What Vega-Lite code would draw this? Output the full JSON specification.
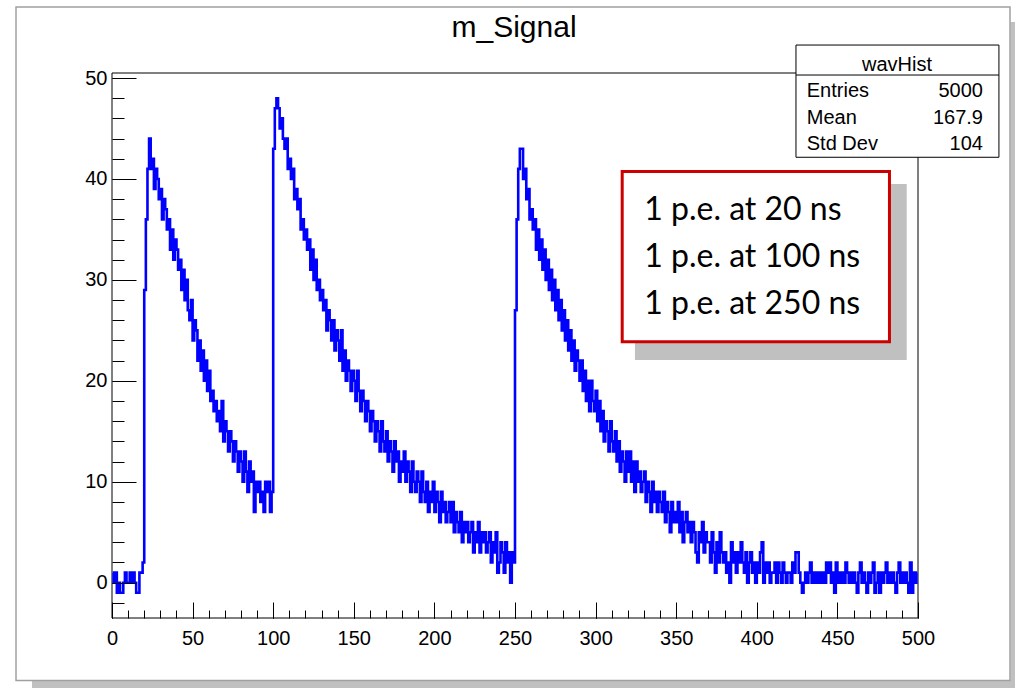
{
  "$schema": "https://vega.github.io/schema/vega-lite/v6.json",
  "width": 806,
  "height": 545,
  "autosize": {"type": "none"},
  "padding": {"left": 112, "top": 73, "right": 97, "bottom": 70},
  "background": "white",
  "config": {"view": {"stroke": null}},
  "datasets": {
    "wav": [
      {"ns":0.5,"counts":1},{"ns":1.5,"counts":0},{"ns":2.5,"counts":1},{"ns":3.5,"counts":-1},{"ns":4.5,"counts":0},{"ns":5.5,"counts":-1},{"ns":6.5,"counts":-1},{"ns":7.5,"counts":0},{"ns":8.5,"counts":1},{"ns":9.5,"counts":0},
      {"ns":10.5,"counts":0},{"ns":11.5,"counts":1},{"ns":12.5,"counts":0},{"ns":13.5,"counts":1},{"ns":14.5,"counts":0},{"ns":15.5,"counts":-1},{"ns":16.5,"counts":-1},{"ns":17.5,"counts":1},{"ns":18.5,"counts":1},{"ns":19.5,"counts":2},
      {"ns":20.5,"counts":29},{"ns":21.5,"counts":36},{"ns":22.5,"counts":41},{"ns":23.5,"counts":44},{"ns":24.5,"counts":41},{"ns":25.5,"counts":42},{"ns":26.5,"counts":39},{"ns":27.5,"counts":41},{"ns":28.5,"counts":40},{"ns":29.5,"counts":38},
      {"ns":30.5,"counts":39},{"ns":31.5,"counts":36},{"ns":32.5,"counts":38},{"ns":33.5,"counts":37},{"ns":34.5,"counts":35},{"ns":35.5,"counts":36},{"ns":36.5,"counts":33},{"ns":37.5,"counts":35},{"ns":38.5,"counts":32},{"ns":39.5,"counts":34},
      {"ns":40.5,"counts":33},{"ns":41.5,"counts":31},{"ns":42.5,"counts":32},{"ns":43.5,"counts":29},{"ns":44.5,"counts":31},{"ns":45.5,"counts":28},{"ns":46.5,"counts":30},{"ns":47.5,"counts":27},{"ns":48.5,"counts":26},{"ns":49.5,"counts":28},
      {"ns":50.5,"counts":24},{"ns":51.5,"counts":26},{"ns":52.5,"counts":25},{"ns":53.5,"counts":22},{"ns":54.5,"counts":24},{"ns":55.5,"counts":21},{"ns":56.5,"counts":23},{"ns":57.5,"counts":20},{"ns":58.5,"counts":22},{"ns":59.5,"counts":19},
      {"ns":60.5,"counts":21},{"ns":61.5,"counts":18},{"ns":62.5,"counts":19},{"ns":63.5,"counts":17},{"ns":64.5,"counts":18},{"ns":65.5,"counts":16},{"ns":66.5,"counts":17},{"ns":67.5,"counts":15},{"ns":68.5,"counts":18},{"ns":69.5,"counts":14},
      {"ns":70.5,"counts":16},{"ns":71.5,"counts":15},{"ns":72.5,"counts":13},{"ns":73.5,"counts":15},{"ns":74.5,"counts":14},{"ns":75.5,"counts":12},{"ns":76.5,"counts":14},{"ns":77.5,"counts":13},{"ns":78.5,"counts":11},{"ns":79.5,"counts":13},
      {"ns":80.5,"counts":12},{"ns":81.5,"counts":10},{"ns":82.5,"counts":13},{"ns":83.5,"counts":11},{"ns":84.5,"counts":9},{"ns":85.5,"counts":12},{"ns":86.5,"counts":10},{"ns":87.5,"counts":11},{"ns":88.5,"counts":7},{"ns":89.5,"counts":10},
      {"ns":90.5,"counts":9},{"ns":91.5,"counts":10},{"ns":92.5,"counts":8},{"ns":93.5,"counts":9},{"ns":94.5,"counts":7},{"ns":95.5,"counts":10},{"ns":96.5,"counts":9},{"ns":97.5,"counts":10},{"ns":98.5,"counts":7},{"ns":99.5,"counts":9},
      {"ns":100.5,"counts":43},{"ns":101.5,"counts":47},{"ns":102.5,"counts":48},{"ns":103.5,"counts":47},{"ns":104.5,"counts":45},{"ns":105.5,"counts":46},{"ns":106.5,"counts":44},{"ns":107.5,"counts":43},{"ns":108.5,"counts":44},{"ns":109.5,"counts":41},
      {"ns":110.5,"counts":42},{"ns":111.5,"counts":40},{"ns":112.5,"counts":41},{"ns":113.5,"counts":38},{"ns":114.5,"counts":39},{"ns":115.5,"counts":37},{"ns":116.5,"counts":38},{"ns":117.5,"counts":35},{"ns":118.5,"counts":36},{"ns":119.5,"counts":34},
      {"ns":120.5,"counts":35},{"ns":121.5,"counts":33},{"ns":122.5,"counts":34},{"ns":123.5,"counts":31},{"ns":124.5,"counts":33},{"ns":125.5,"counts":30},{"ns":126.5,"counts":32},{"ns":127.5,"counts":29},{"ns":128.5,"counts":30},{"ns":129.5,"counts":28},
      {"ns":130.5,"counts":29},{"ns":131.5,"counts":27},{"ns":132.5,"counts":28},{"ns":133.5,"counts":25},{"ns":134.5,"counts":27},{"ns":135.5,"counts":26},{"ns":136.5,"counts":24},{"ns":137.5,"counts":26},{"ns":138.5,"counts":23},{"ns":139.5,"counts":25},
      {"ns":140.5,"counts":24},{"ns":141.5,"counts":22},{"ns":142.5,"counts":25},{"ns":143.5,"counts":21},{"ns":144.5,"counts":23},{"ns":145.5,"counts":20},{"ns":146.5,"counts":22},{"ns":147.5,"counts":21},{"ns":148.5,"counts":19},{"ns":149.5,"counts":21},
      {"ns":150.5,"counts":20},{"ns":151.5,"counts":18},{"ns":152.5,"counts":21},{"ns":153.5,"counts":19},{"ns":154.5,"counts":17},{"ns":155.5,"counts":19},{"ns":156.5,"counts":18},{"ns":157.5,"counts":16},{"ns":158.5,"counts":18},{"ns":159.5,"counts":17},
      {"ns":160.5,"counts":15},{"ns":161.5,"counts":17},{"ns":162.5,"counts":16},{"ns":163.5,"counts":14},{"ns":164.5,"counts":16},{"ns":165.5,"counts":15},{"ns":166.5,"counts":13},{"ns":167.5,"counts":16},{"ns":168.5,"counts":14},{"ns":169.5,"counts":13},
      {"ns":170.5,"counts":15},{"ns":171.5,"counts":12},{"ns":172.5,"counts":14},{"ns":173.5,"counts":13},{"ns":174.5,"counts":11},{"ns":175.5,"counts":14},{"ns":176.5,"counts":12},{"ns":177.5,"counts":13},{"ns":178.5,"counts":10},{"ns":179.5,"counts":12},
      {"ns":180.5,"counts":11},{"ns":181.5,"counts":13},{"ns":182.5,"counts":10},{"ns":183.5,"counts":12},{"ns":184.5,"counts":11},{"ns":185.5,"counts":9},{"ns":186.5,"counts":12},{"ns":187.5,"counts":10},{"ns":188.5,"counts":9},{"ns":189.5,"counts":11},
      {"ns":190.5,"counts":10},{"ns":191.5,"counts":8},{"ns":192.5,"counts":11},{"ns":193.5,"counts":9},{"ns":194.5,"counts":8},{"ns":195.5,"counts":10},{"ns":196.5,"counts":7},{"ns":197.5,"counts":9},{"ns":198.5,"counts":8},{"ns":199.5,"counts":10},
      {"ns":200.5,"counts":7},{"ns":201.5,"counts":9},{"ns":202.5,"counts":8},{"ns":203.5,"counts":6},{"ns":204.5,"counts":9},{"ns":205.5,"counts":7},{"ns":206.5,"counts":8},{"ns":207.5,"counts":6},{"ns":208.5,"counts":7},{"ns":209.5,"counts":8},
      {"ns":210.5,"counts":6},{"ns":211.5,"counts":8},{"ns":212.5,"counts":5},{"ns":213.5,"counts":7},{"ns":214.5,"counts":6},{"ns":215.5,"counts":5},{"ns":216.5,"counts":7},{"ns":217.5,"counts":4},{"ns":218.5,"counts":6},{"ns":219.5,"counts":5},
      {"ns":220.5,"counts":6},{"ns":221.5,"counts":4},{"ns":222.5,"counts":5},{"ns":223.5,"counts":6},{"ns":224.5,"counts":3},{"ns":225.5,"counts":5},{"ns":226.5,"counts":4},{"ns":227.5,"counts":6},{"ns":228.5,"counts":3},{"ns":229.5,"counts":5},
      {"ns":230.5,"counts":4},{"ns":231.5,"counts":5},{"ns":232.5,"counts":3},{"ns":233.5,"counts":4},{"ns":234.5,"counts":5},{"ns":235.5,"counts":2},{"ns":236.5,"counts":4},{"ns":237.5,"counts":3},{"ns":238.5,"counts":5},{"ns":239.5,"counts":1},
      {"ns":240.5,"counts":2},{"ns":241.5,"counts":4},{"ns":242.5,"counts":3},{"ns":243.5,"counts":1},{"ns":244.5,"counts":4},{"ns":245.5,"counts":2},{"ns":246.5,"counts":3},{"ns":247.5,"counts":0},{"ns":248.5,"counts":3},{"ns":249.5,"counts":2},
      {"ns":250.5,"counts":27},{"ns":251.5,"counts":36},{"ns":252.5,"counts":41},{"ns":253.5,"counts":43},{"ns":254.5,"counts":43},{"ns":255.5,"counts":40},{"ns":256.5,"counts":41},{"ns":257.5,"counts":38},{"ns":258.5,"counts":39},{"ns":259.5,"counts":36},
      {"ns":260.5,"counts":37},{"ns":261.5,"counts":35},{"ns":262.5,"counts":36},{"ns":263.5,"counts":33},{"ns":264.5,"counts":35},{"ns":265.5,"counts":32},{"ns":266.5,"counts":34},{"ns":267.5,"counts":31},{"ns":268.5,"counts":33},{"ns":269.5,"counts":30},
      {"ns":270.5,"counts":32},{"ns":271.5,"counts":29},{"ns":272.5,"counts":31},{"ns":273.5,"counts":28},{"ns":274.5,"counts":30},{"ns":275.5,"counts":27},{"ns":276.5,"counts":29},{"ns":277.5,"counts":26},{"ns":278.5,"counts":28},{"ns":279.5,"counts":25},
      {"ns":280.5,"counts":27},{"ns":281.5,"counts":24},{"ns":282.5,"counts":26},{"ns":283.5,"counts":23},{"ns":284.5,"counts":25},{"ns":285.5,"counts":22},{"ns":286.5,"counts":24},{"ns":287.5,"counts":21},{"ns":288.5,"counts":23},{"ns":289.5,"counts":22},
      {"ns":290.5,"counts":20},{"ns":291.5,"counts":22},{"ns":292.5,"counts":19},{"ns":293.5,"counts":21},{"ns":294.5,"counts":18},{"ns":295.5,"counts":20},{"ns":296.5,"counts":17},{"ns":297.5,"counts":20},{"ns":298.5,"counts":18},{"ns":299.5,"counts":17},
      {"ns":300.5,"counts":19},{"ns":301.5,"counts":16},{"ns":302.5,"counts":18},{"ns":303.5,"counts":15},{"ns":304.5,"counts":17},{"ns":305.5,"counts":14},{"ns":306.5,"counts":16},{"ns":307.5,"counts":15},{"ns":308.5,"counts":13},{"ns":309.5,"counts":16},
      {"ns":310.5,"counts":14},{"ns":311.5,"counts":13},{"ns":312.5,"counts":15},{"ns":313.5,"counts":12},{"ns":314.5,"counts":14},{"ns":315.5,"counts":11},{"ns":316.5,"counts":13},{"ns":317.5,"counts":12},{"ns":318.5,"counts":10},{"ns":319.5,"counts":13},
      {"ns":320.5,"counts":11},{"ns":321.5,"counts":13},{"ns":322.5,"counts":10},{"ns":323.5,"counts":12},{"ns":324.5,"counts":9},{"ns":325.5,"counts":12},{"ns":326.5,"counts":10},{"ns":327.5,"counts":11},{"ns":328.5,"counts":9},{"ns":329.5,"counts":10},
      {"ns":330.5,"counts":11},{"ns":331.5,"counts":8},{"ns":332.5,"counts":10},{"ns":333.5,"counts":9},{"ns":334.5,"counts":7},{"ns":335.5,"counts":10},{"ns":336.5,"counts":8},{"ns":337.5,"counts":9},{"ns":338.5,"counts":7},{"ns":339.5,"counts":9},
      {"ns":340.5,"counts":8},{"ns":341.5,"counts":7},{"ns":342.5,"counts":9},{"ns":343.5,"counts":6},{"ns":344.5,"counts":8},{"ns":345.5,"counts":7},{"ns":346.5,"counts":5},{"ns":347.5,"counts":8},{"ns":348.5,"counts":6},{"ns":349.5,"counts":7},
      {"ns":350.5,"counts":6},{"ns":351.5,"counts":8},{"ns":352.5,"counts":5},{"ns":353.5,"counts":7},{"ns":354.5,"counts":4},{"ns":355.5,"counts":6},{"ns":356.5,"counts":7},{"ns":357.5,"counts":5},{"ns":358.5,"counts":6},{"ns":359.5,"counts":4},
      {"ns":360.5,"counts":6},{"ns":361.5,"counts":5},{"ns":362.5,"counts":3},{"ns":363.5,"counts":2},{"ns":364.5,"counts":5},{"ns":365.5,"counts":4},{"ns":366.5,"counts":6},{"ns":367.5,"counts":3},{"ns":368.5,"counts":5},{"ns":369.5,"counts":4},
      {"ns":370.5,"counts":4},{"ns":371.5,"counts":2},{"ns":372.5,"counts":5},{"ns":373.5,"counts":3},{"ns":374.5,"counts":1},{"ns":375.5,"counts":4},{"ns":376.5,"counts":2},{"ns":377.5,"counts":5},{"ns":378.5,"counts":3},{"ns":379.5,"counts":2},
      {"ns":380.5,"counts":3},{"ns":381.5,"counts":1},{"ns":382.5,"counts":2},{"ns":383.5,"counts":0},{"ns":384.5,"counts":4},{"ns":385.5,"counts":2},{"ns":386.5,"counts":3},{"ns":387.5,"counts":1},{"ns":388.5,"counts":3},{"ns":389.5,"counts":2},
      {"ns":390.5,"counts":4},{"ns":391.5,"counts":2},{"ns":392.5,"counts":1},{"ns":393.5,"counts":3},{"ns":394.5,"counts":0},{"ns":395.5,"counts":2},{"ns":396.5,"counts":3},{"ns":397.5,"counts":1},{"ns":398.5,"counts":2},{"ns":399.5,"counts":0},
      {"ns":400.5,"counts":2},{"ns":401.5,"counts":1},{"ns":402.5,"counts":3},{"ns":403.5,"counts":4},{"ns":404.5,"counts":0},{"ns":405.5,"counts":2},{"ns":406.5,"counts":1},{"ns":407.5,"counts":2},{"ns":408.5,"counts":0},{"ns":409.5,"counts":1},
      {"ns":410.5,"counts":1},{"ns":411.5,"counts":2},{"ns":412.5,"counts":0},{"ns":413.5,"counts":2},{"ns":414.5,"counts":1},{"ns":415.5,"counts":0},{"ns":416.5,"counts":2},{"ns":417.5,"counts":1},{"ns":418.5,"counts":0},{"ns":419.5,"counts":1},
      {"ns":420.5,"counts":1},{"ns":421.5,"counts":0},{"ns":422.5,"counts":2},{"ns":423.5,"counts":1},{"ns":424.5,"counts":3},{"ns":425.5,"counts":3},{"ns":426.5,"counts":1},{"ns":427.5,"counts":0},{"ns":428.5,"counts":-1},{"ns":429.5,"counts":0},
      {"ns":430.5,"counts":1},{"ns":431.5,"counts":0},{"ns":432.5,"counts":1},{"ns":433.5,"counts":2},{"ns":434.5,"counts":0},{"ns":435.5,"counts":1},{"ns":436.5,"counts":0},{"ns":437.5,"counts":1},{"ns":438.5,"counts":0},{"ns":439.5,"counts":1},
      {"ns":440.5,"counts":0},{"ns":441.5,"counts":1},{"ns":442.5,"counts":0},{"ns":443.5,"counts":2},{"ns":444.5,"counts":1},{"ns":445.5,"counts":2},{"ns":446.5,"counts":0},{"ns":447.5,"counts":1},{"ns":448.5,"counts":-1},{"ns":449.5,"counts":2},
      {"ns":450.5,"counts":0},{"ns":451.5,"counts":1},{"ns":452.5,"counts":0},{"ns":453.5,"counts":1},{"ns":454.5,"counts":0},{"ns":455.5,"counts":2},{"ns":456.5,"counts":1},{"ns":457.5,"counts":0},{"ns":458.5,"counts":1},{"ns":459.5,"counts":0},
      {"ns":460.5,"counts":1},{"ns":461.5,"counts":0},{"ns":462.5,"counts":-1},{"ns":463.5,"counts":1},{"ns":464.5,"counts":2},{"ns":465.5,"counts":0},{"ns":466.5,"counts":1},{"ns":467.5,"counts":0},{"ns":468.5,"counts":-1},{"ns":469.5,"counts":1},
      {"ns":470.5,"counts":0},{"ns":471.5,"counts":1},{"ns":472.5,"counts":2},{"ns":473.5,"counts":-1},{"ns":474.5,"counts":0},{"ns":475.5,"counts":1},{"ns":476.5,"counts":-1},{"ns":477.5,"counts":1},{"ns":478.5,"counts":0},{"ns":479.5,"counts":1},
      {"ns":480.5,"counts":2},{"ns":481.5,"counts":0},{"ns":482.5,"counts":1},{"ns":483.5,"counts":0},{"ns":484.5,"counts":1},{"ns":485.5,"counts":0},{"ns":486.5,"counts":-1},{"ns":487.5,"counts":1},{"ns":488.5,"counts":2},{"ns":489.5,"counts":0},
      {"ns":490.5,"counts":1},{"ns":491.5,"counts":0},{"ns":492.5,"counts":1},{"ns":493.5,"counts":0},{"ns":494.5,"counts":-1},{"ns":495.5,"counts":2},{"ns":496.5,"counts":-1},{"ns":497.5,"counts":1},{"ns":498.5,"counts":0},{"ns":499.5,"counts":1}
    ]
  },
  "layer": [
    {
      "data": {"values": [{}]},
      "mark": {"type": "rect", "fill": "#c0c0c0"},
      "encoding": {
        "x": {"datum": 557.4, "type": "quantitative", "axis": null},
        "x2": {"datum": 560.5},
        "y": {"datum": 55.55, "type": "quantitative", "axis": null},
        "y2": {"datum": -10.53}
      }
    },
    {
      "data": {"values": [{}]},
      "mark": {"type": "rect", "fill": "#c0c0c0"},
      "encoding": {
        "x": {"datum": -49.63, "type": "quantitative", "axis": null},
        "x2": {"datum": 560.5},
        "y": {"datum": -9.69, "type": "quantitative", "axis": null},
        "y2": {"datum": -10.53}
      }
    },
    {
      "data": {"values": [{}]},
      "mark": {"type": "rect", "filled": false, "stroke": "#a0a0a0", "strokeWidth": 1.5},
      "encoding": {
        "x": {"datum": -59.55, "type": "quantitative", "axis": null},
        "x2": {"datum": 557.07},
        "y": {"datum": 57.04, "type": "quantitative", "axis": null},
        "y2": {"datum": -9.69}
      }
    },
    {
      "data": {"values": [{}]},
      "mark": {"type": "text", "text": "m_Signal", "font": "Liberation Sans", "fontSize": 30, "align": "center", "baseline": "alphabetic", "color": "black"},
      "encoding": {
        "x": {"datum": 249.4, "type": "quantitative", "axis": null},
        "y": {"datum": 54.1, "type": "quantitative", "axis": null}
      }
    },
    {
      "data": {"values": [{}]},
      "mark": {"type": "rect", "filled": false, "stroke": "black", "strokeWidth": 1},
      "encoding": {
        "x": {"datum": 0, "type": "quantitative",
          "axis": {"orient": "bottom", "values": [0,10,20,30,40,50,60,70,80,90,100,110,120,130,140,150,160,170,180,190,200,210,220,230,240,250,260,270,280,290,300,310,320,330,340,350,360,370,380,390,400,410,420,430,440,450,460,470,480,490,500],
            "tickSize": -8, "tickColor": "black", "tickWidth": 1, "labels": false, "domain": false, "grid": false, "title": null, "zindex": 1}},
        "x2": {"datum": 500},
        "y": {"datum": -3.5, "type": "quantitative",
          "axis": {"orient": "left", "values": [-2,0,2,4,6,8,10,12,14,16,18,20,22,24,26,28,30,32,34,36,38,40,42,44,46,48,50],
            "tickSize": -12, "tickColor": "black", "tickWidth": 1, "labels": false, "domain": false, "grid": false, "title": null, "zindex": 1}},
        "y2": {"datum": 50.5}
      }
    },
    {
      "data": {"name": "wav"},
      "mark": {"type": "line", "interpolate": "step", "color": "#0000ff", "strokeWidth": 2.6},
      "encoding": {
        "x": {"field": "ns", "type": "quantitative",
          "scale": {"domain": [0, 500], "nice": false, "zero": false},
          "axis": {"orient": "bottom", "values": [0,50,100,150,200,250,300,350,400,450,500], "format": "d",
            "tickSize": -16, "tickColor": "black", "tickWidth": 1, "domain": false, "grid": false, "title": null,
            "labelFont": "Liberation Sans", "labelFontSize": 20, "labelColor": "black", "labelPadding": 26,
            "labelFlush": false, "labelOverlap": false, "labelBound": false, "zindex": 1}},
        "y": {"field": "counts", "type": "quantitative",
          "scale": {"domain": [-3.5, 50.5], "nice": false, "zero": false},
          "axis": {"orient": "left", "values": [0,10,20,30,40,50], "format": "d",
            "tickSize": -24, "tickColor": "black", "tickWidth": 1, "domain": false, "grid": false, "title": null,
            "labelFont": "Liberation Sans", "labelFontSize": 20, "labelColor": "black", "labelPadding": 29,
            "labelOverlap": false, "labelBound": false, "zindex": 1}}
      }
    },
    {
      "data": {"values": [{}]},
      "mark": {"type": "rect", "fill": "#c0c0c0"},
      "encoding": {
        "x": {"datum": 324.4, "type": "quantitative", "axis": null},
        "x2": {"datum": 493.0},
        "y": {"datum": 39.5, "type": "quantitative", "axis": null},
        "y2": {"datum": 22.06}
      }
    },
    {
      "data": {"values": [{}]},
      "mark": {"type": "rect", "fill": "white", "stroke": "#cc0000", "strokeWidth": 3},
      "encoding": {
        "x": {"datum": 316.5, "type": "quantitative", "axis": null},
        "x2": {"datum": 482.3},
        "y": {"datum": 40.74, "type": "quantitative", "axis": null},
        "y2": {"datum": 23.87}
      }
    },
    {
      "data": {"values": [{}]},
      "mark": {"type": "text", "text": "1 p.e. at 20 ns\n1 p.e. at 100 ns\n1 p.e. at 250 ns", "lineBreak": "\n", "lineHeight": 47, "font": "Lato", "fontSize": 32, "align": "left", "baseline": "alphabetic", "color": "black"},
      "encoding": {
        "x": {"datum": 330.2, "type": "quantitative", "axis": null},
        "y": {"datum": 35.93, "type": "quantitative", "axis": null}
      }
    },
    {
      "data": {"values": [{}]},
      "mark": {"type": "rect", "fill": "white", "stroke": "black", "strokeWidth": 1},
      "encoding": {
        "x": {"datum": 424.3, "type": "quantitative", "axis": null},
        "x2": {"datum": 550.2},
        "y": {"datum": 53.27, "type": "quantitative", "axis": null},
        "y2": {"datum": 42.15}
      }
    },
    {
      "data": {"values": [{}]},
      "mark": {"type": "rule", "color": "black", "strokeWidth": 1},
      "encoding": {
        "x": {"datum": 424.3, "type": "quantitative", "axis": null},
        "x2": {"datum": 550.2},
        "y": {"datum": 50.3, "type": "quantitative", "axis": null}
      }
    },
    {
      "data": {"values": [{}]},
      "mark": {"type": "text", "text": "wavHist", "font": "Liberation Sans", "fontSize": 20, "align": "center", "baseline": "alphabetic", "color": "black"},
      "encoding": {
        "x": {"datum": 487.0, "type": "quantitative", "axis": null},
        "y": {"datum": 50.73, "type": "quantitative", "axis": null}
      }
    },
    {
      "data": {"values": [{}]},
      "mark": {"type": "text", "text": "Entries\nMean\nStd Dev", "lineBreak": "\n", "lineHeight": 26.5, "font": "Liberation Sans", "fontSize": 20, "align": "left", "baseline": "alphabetic", "color": "black"},
      "encoding": {
        "x": {"datum": 431.0, "type": "quantitative", "axis": null},
        "y": {"datum": 48.09, "type": "quantitative", "axis": null}
      }
    },
    {
      "data": {"values": [{}]},
      "mark": {"type": "text", "text": "5000\n167.9\n104", "lineBreak": "\n", "lineHeight": 26.5, "font": "Liberation Sans", "fontSize": 20, "align": "right", "baseline": "alphabetic", "color": "black"},
      "encoding": {
        "x": {"datum": 540.3, "type": "quantitative", "axis": null},
        "y": {"datum": 48.09, "type": "quantitative", "axis": null}
      }
    }
  ],
  "resolve": {"axis": {"x": "independent", "y": "independent"}}
}
